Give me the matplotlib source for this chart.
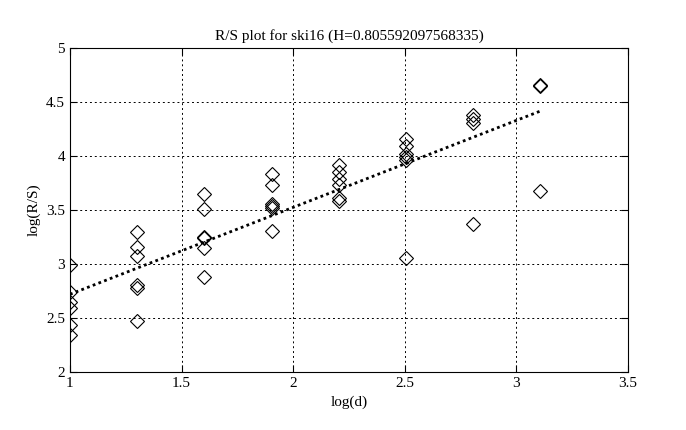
import numpy as np
import matplotlib
matplotlib.use("Agg")
import matplotlib.pyplot as plt

# data: log(d) columns and log(R/S) values
x_1 = 1.0
y_1 = [2.99, 2.74, 2.65, 2.59, 2.435, 2.34]
x_2 = 1.301
y_2 = [3.30, 3.16, 3.07, 2.81, 2.78, 2.47]
x_3 = 1.602
y_3 = [3.65, 3.51, 3.25, 3.24, 3.15, 2.88]
x_4 = 1.903
y_4 = [3.83, 3.73, 3.56, 3.54, 3.52, 3.31]
x_5 = 2.204
y_5 = [3.92, 3.85, 3.79, 3.73, 3.61, 3.58]
x_6 = 2.505
y_6 = [4.16, 4.09, 4.02, 3.99, 3.96, 3.06]
x_7 = 2.806
y_7 = [4.38, 4.34, 4.31, 3.37]
x_8 = 3.107
y_8 = [4.66, 4.65, 3.68]

H = 0.805592097568335
intercept = 1.914
fit_x = [1.0, 3.107]

xs = [x_1, x_2, x_3, x_4, x_5, x_6, x_7, x_8]
ys = [y_1, y_2, y_3, y_4, y_5, y_6, y_7, y_8]

plt.rcParams['font.family'] = ['Liberation Serif', 'DejaVu Serif']

fig = plt.figure(figsize=(6.86, 4.30), dpi=100)
ax = fig.add_axes([0.102, 0.135, 0.8135, 0.753])

for xv, yv in zip(xs, ys):
    ax.plot([xv] * len(yv), yv, linestyle='none', marker='D', markersize=6.8,
            markerfacecolor='none', markeredgecolor='black', markeredgewidth=0.8)

fx = np.array(fit_x)
ax.plot(fx, intercept + H * fx, color='black', linestyle=(0, (1, 1.2)), linewidth=2)

ax.set_xlim(1, 3.5)
ax.set_ylim(2, 5)
ax.set_xticks([1, 1.5, 2, 2.5, 3, 3.5])
ax.set_xticklabels(['1', '1.5', '2', '2.5', '3', '3.5'])
ax.set_yticks([2, 2.5, 3, 3.5, 4, 4.5, 5])
ax.set_yticklabels(['2', '2.5', '3', '3.5', '4', '4.5', '5'])
ax.grid(True, color='black', linestyle=(0, (2, 3)), linewidth=0.7)
ax.tick_params(direction='in', labelsize=11, length=5, top=True, right=True,
               labeltop=False, labelright=False)
for s in ax.spines.values():
    s.set_linewidth(0.8)

ax.set_xlabel('log(d)', fontsize=11)
ax.set_ylabel('log(R/S)', fontsize=11)
ax.set_title('R/S plot for ski16 (H=0.805592097568335)', fontsize=11)

fig.savefig('out.png', dpi=100)
